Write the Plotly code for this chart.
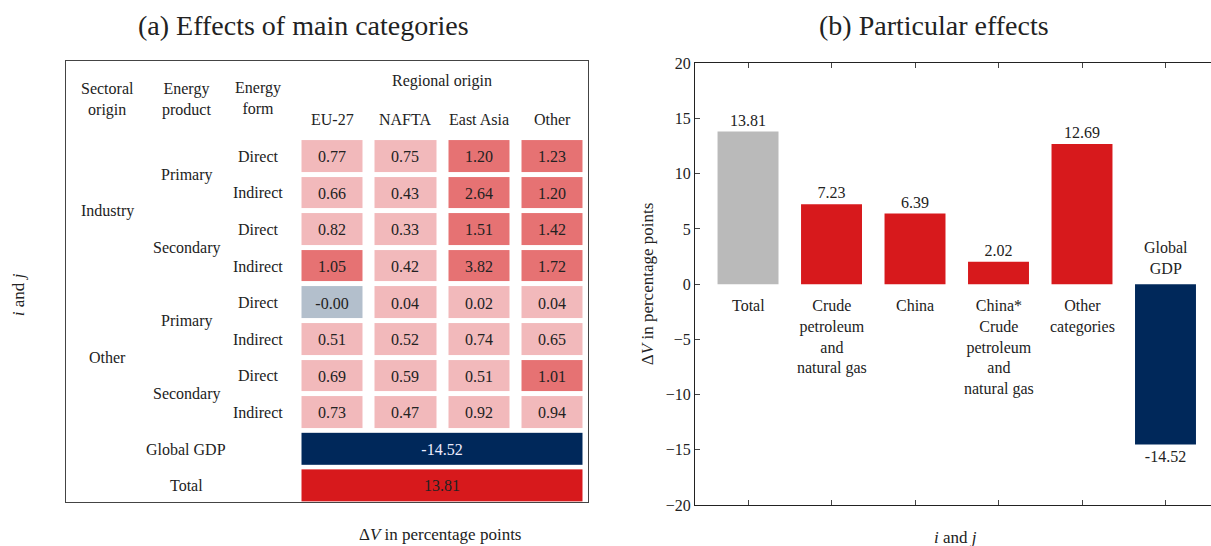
import plotly.graph_objects as go

# ---- data: (a) effects of main categories ----
regions = ["EU-27", "NAFTA", "East Asia", "Other"]
sectors = ["Industry", "Other"]
products = ["Primary", "Secondary"]
forms = ["Direct", "Indirect"]
effects = [
    [0.77, 0.75, 1.20, 1.23],
    [0.66, 0.43, 2.64, 1.20],
    [0.82, 0.33, 1.51, 1.42],
    [1.05, 0.42, 3.82, 1.72],
    [-0.004, 0.04, 0.02, 0.04],
    [0.51, 0.52, 0.74, 0.65],
    [0.69, 0.59, 0.51, 1.01],
    [0.73, 0.47, 0.92, 0.94],
]
summary_labels = ["Global GDP", "Total"]
summary_values = [-14.52, 13.81]

# ---- data: (b) particular effects ----
bar_labels = ["Total", "Crude<br>petroleum<br>and<br>natural gas", "China",
              "China*<br>Crude<br>petroleum<br>and<br>natural gas",
              "Other<br>categories", "Global<br>GDP"]
bar_values = [13.81, 7.23, 6.39, 2.02, 12.69, -14.52]

FONT = "Liberation Serif"
NAVY = "#00285a"
RED = "#d7191c"
GRAY = "#bababa"

W, H = 1211, 546
SQ = 0.969  # vertical squeeze seen in the rendered page


def px(x):
    return x / W


def py(y):
    # pixel row (from top) -> paper fraction, undoing the squeeze around row 284
    y = 284 + (y - 284) / SQ
    return 1 - y / H


# stepwise scale on [-20, 20]: <-5 navy, <0 blue-grey, <1 light pink, <5 mid red, else red
steps = [(0.375, NAVY), (0.5, "#b3bfcc"), (0.525, "#f2b9bb"), (0.625, "#e67273"), (1.0, RED)]
cscale = []
lo = 0.0
for hi, c in steps:
    cscale += [[lo, c], [hi, c]]
    lo = hi

fig = go.Figure()

n_rows = len(effects)
fig.add_trace(go.Heatmap(
    z=effects, x=list(range(len(regions))), y=list(range(n_rows)),
    text=[[f"{v:.2f}" for v in row] for row in effects], texttemplate="%{text}",
    textfont=dict(family=FONT, size=16, color="#222"),
    colorscale=cscale, zmin=-20, zmax=20, showscale=False,
    xgap=12, ygap=5, hoverinfo="skip", xaxis="x", yaxis="y"))

for k, (lab, v) in enumerate(zip(summary_labels, summary_values)):
    fig.add_trace(go.Heatmap(
        z=[[v]], x0=(len(regions) - 1) / 2, dx=len(regions), y0=n_rows + k, dy=1,
        text=[[f"{v:.2f}"]], texttemplate="%{text}",
        textfont=dict(family=FONT, size=16, color="#eef" if v < 0 else "#222"),
        colorscale=cscale, zmin=-20, zmax=20, showscale=False,
        xgap=12, ygap=5, hoverinfo="skip", xaxis="x", yaxis="y"))

ann = []
def add(text, x, y, xref="x", yref="y", size=16, **kw):
    kw.setdefault("xanchor", "center")
    kw.setdefault("yanchor", "middle")
    ann.append(dict(text=text, x=x, y=y, xref=xref, yref=yref, showarrow=False,
                    font=dict(family=FONT, size=size, color="#222"), **kw))

# headers
add("Regional origin", (len(regions) - 1) / 2, -2.07)
for i, r in enumerate(regions):
    add(r, i, -1.0)
add("Sectoral<br>origin", -3.07, -1.55)
add("Energy<br>product", -1.98, -1.55)
add("Energy<br>form", -1.01, -1.6)

# row labels
row = 0
for s in sectors:
    s_start = row
    for p in products:
        p_start = row
        for f in forms:
            add(f, -1.01, row)
            row += 1
        add(p, -1.98, (p_start + row - 1) / 2)
    add(s, -3.07, (s_start + row - 1) / 2)
for k, lab in enumerate(summary_labels):
    add(lab, -1.99, n_rows + k)

# bars
bar_colors = [GRAY if i == 0 else (NAVY if v < 0 else RED) for i, v in enumerate(bar_values)]
fig.add_trace(go.Bar(
    x=list(range(len(bar_values))), y=bar_values, marker_color=bar_colors,
    marker_line_width=0, text=[f"{v:.2f}" for v in bar_values], textposition="outside",
    textfont=dict(family=FONT, size=16, color="#222"), cliponaxis=False,
    hoverinfo="skip", xaxis="x2", yaxis="y2"))

for i, (lab, v) in enumerate(zip(bar_labels, bar_values)):
    if v >= 0:
        add(lab, i, 0, xref="x2", yref="y2", yanchor="top", yshift=-11)
    else:
        add(lab, i, 0, xref="x2", yref="y2", yanchor="bottom", yshift=5)

# titles
add("(a) Effects of main categories", px(303), py(26), "paper", "paper", size=28)
add("(b) Particular effects", px(934), py(26), "paper", "paper", size=28)
add("Δ<i>V</i> in percentage points", px(440), py(535), "paper", "paper", size=17)
add("<i>i</i> and <i>j</i>", px(18), py(296), "paper", "paper", size=17, textangle=-90)
add("Δ<i>V</i> in percentage points", px(647), py(285), "paper", "paper", size=17, textangle=-90)
add("<i>i</i> and <i>j</i>", px(955), py(538), "paper", "paper", size=17)

fig.update_layout(
    width=W, height=H, margin=dict(l=0, r=0, t=0, b=0),
    paper_bgcolor="white", plot_bgcolor="white", showlegend=False,
    bargap=0.27, annotations=ann,
    xaxis=dict(domain=[px(66), px(588)], range=[-3.63, 3.49], showgrid=False,
               zeroline=False, showticklabels=False, ticks="", showline=True,
               mirror=True, linecolor="#444", linewidth=1.2),
    yaxis=dict(domain=[py(503), py(62)], range=[9.45, -2.6], showgrid=False,
               zeroline=False, showticklabels=False, ticks="", showline=True,
               mirror=True, linecolor="#444", linewidth=1.2),
    xaxis2=dict(domain=[px(695), 1.0], range=[-0.635, 5.545], showgrid=False,
                zeroline=False, showticklabels=False, tickvals=list(range(len(bar_values))),
                ticks="inside", ticklen=5, tickcolor="#444", showline=True, mirror="ticks",
                linecolor="#222", linewidth=1.2, anchor="y2"),
    yaxis2=dict(domain=[py(506), py(64)], range=[-20, 20], showgrid=False,
                zeroline=False, tickvals=list(range(-20, 21, 5)), ticks="inside",
                ticklen=5, tickcolor="#444", showline=True, linecolor="#222",
                linewidth=1.2, anchor="x2", tickfont=dict(family=FONT, size=16, color="#222")),
)

fig.write_html("out.html", config={"displayModeBar": False},
               post_script="document.body.style.margin='0';document.body.style.overflow='hidden';")
